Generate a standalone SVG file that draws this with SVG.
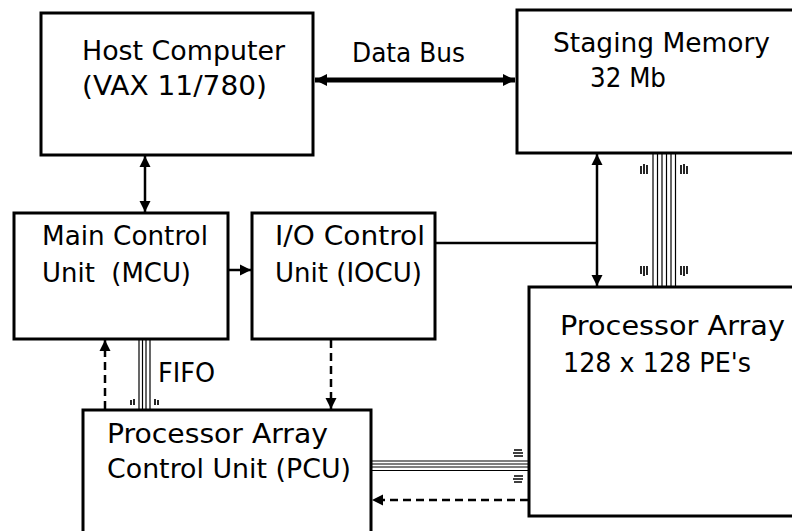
<svg xmlns="http://www.w3.org/2000/svg" width="792" height="531" viewBox="0 0 792 531">
  <style>
    .box { fill: #ffffff; stroke: #000000; stroke-width: 3; }
    .lbl { font-family: "DejaVu Sans", "Liberation Sans", sans-serif; font-size: 26px; fill: #000000; }
    .line { fill: none; stroke: #000000; stroke-width: 2.5; }
    .dash { fill: none; stroke: #000000; stroke-width: 2.5; stroke-dasharray: 8 5; }
    .bus { fill: none; stroke: #000000; stroke-width: 5; }
    .wire { fill: none; stroke: #000000; stroke-width: 1.2; }
    .tick { fill: none; stroke: #000000; stroke-width: 1.7; }
  </style>
  <defs>
    <marker id="ah" viewBox="0 0 10 10" refX="10" refY="5" markerWidth="11" markerHeight="12" markerUnits="userSpaceOnUse" orient="auto-start-reverse">
      <path d="M0,0 L10,5 L0,10 Z" fill="#000000"/>
    </marker>
    <marker id="ahb" viewBox="0 0 10 10" refX="10" refY="5" markerWidth="12" markerHeight="14" markerUnits="userSpaceOnUse" orient="auto-start-reverse">
      <path d="M0,0 L10,5 L0,10 Z" fill="#000000"/>
    </marker>
  </defs>

  <rect width="792" height="531" fill="#ffffff"/>

  <g id="host">
    <rect class="box" x="41" y="13" width="272" height="142"/>
    <text class="lbl" x="82" y="60" textLength="203" lengthAdjust="spacingAndGlyphs">Host Computer</text>
    <text class="lbl" x="82" y="95" textLength="185" lengthAdjust="spacingAndGlyphs">(VAX 11/780)</text>
  </g>

  <g id="staging">
    <rect class="box" x="517" y="10" width="290" height="143"/>
    <text class="lbl" x="553" y="52" textLength="217" lengthAdjust="spacingAndGlyphs">Staging Memory</text>
    <text class="lbl" x="590" y="87" textLength="76" lengthAdjust="spacingAndGlyphs">32 Mb</text>
  </g>

  <g id="mcu">
    <rect class="box" x="14" y="213" width="214" height="126"/>
    <text class="lbl" x="42" y="245" textLength="166" lengthAdjust="spacingAndGlyphs">Main Control</text>
    <text class="lbl" x="42" y="282" textLength="149" lengthAdjust="spacingAndGlyphs" xml:space="preserve">Unit  (MCU)</text>
  </g>

  <g id="iocu">
    <rect class="box" x="252" y="213" width="183" height="126"/>
    <text class="lbl" x="275" y="245" textLength="150" lengthAdjust="spacingAndGlyphs">I/O Control</text>
    <text class="lbl" x="275" y="282" textLength="147" lengthAdjust="spacingAndGlyphs">Unit (IOCU)</text>
  </g>

  <g id="pa">
    <rect class="box" x="529" y="287" width="280" height="229"/>
    <text class="lbl" x="560" y="335" textLength="225" lengthAdjust="spacingAndGlyphs">Processor Array</text>
    <text class="lbl" x="563" y="372" textLength="188" lengthAdjust="spacingAndGlyphs">128 x 128 PE's</text>
  </g>

  <g id="pcu">
    <rect class="box" x="83" y="410" width="288" height="140"/>
    <text class="lbl" x="107" y="443" textLength="221" lengthAdjust="spacingAndGlyphs">Processor Array</text>
    <text class="lbl" x="107" y="478" textLength="244" lengthAdjust="spacingAndGlyphs">Control Unit (PCU)</text>
  </g>

  <g id="connectors">
    <!-- Data Bus -->
    <line class="bus" x1="315" y1="80" x2="515" y2="80" marker-start="url(#ahb)" marker-end="url(#ahb)"/>
    <text class="lbl" x="352" y="62" textLength="113" lengthAdjust="spacingAndGlyphs">Data Bus</text>

    <!-- Host <-> MCU -->
    <line class="line" x1="145" y1="156" x2="145" y2="212" marker-start="url(#ah)" marker-end="url(#ah)"/>

    <!-- MCU -> IOCU -->
    <line class="line" x1="229" y1="270" x2="251" y2="270" marker-end="url(#ah)"/>

    <!-- Staging <-> PA, with IOCU branch -->
    <line class="line" x1="597" y1="154" x2="597" y2="286" marker-start="url(#ah)" marker-end="url(#ah)"/>
    <line class="line" x1="436" y1="243" x2="597" y2="243"/>

    <!-- Staging - PA bundle -->
    <g>
      <line class="wire" x1="653" y1="154" x2="653" y2="286"/>
      <line class="wire" x1="657.5" y1="154" x2="657.5" y2="286"/>
      <line class="wire" x1="662" y1="154" x2="662" y2="286"/>
      <line class="wire" x1="666.5" y1="154" x2="666.5" y2="286"/>
      <line class="wire" x1="671" y1="154" x2="671" y2="286"/>
      <line class="wire" x1="675.5" y1="154" x2="675.5" y2="286"/>
      <path class="tick" d="M641,166 v8 M644,164 v10 M647,165 v9 M681,165 v9 M684,164 v10 M687,166 v8"/>
      <path class="tick" d="M641,266 v8 M644,266 v10 M647,266 v9 M681,266 v9 M684,266 v10 M687,266 v8"/>
    </g>

    <!-- FIFO bundle -->
    <g>
      <line class="wire" x1="139" y1="340" x2="139" y2="409"/>
      <line class="wire" x1="142.5" y1="340" x2="142.5" y2="409"/>
      <line class="wire" x1="146" y1="340" x2="146" y2="409"/>
      <line class="wire" x1="150" y1="340" x2="150" y2="409"/>
      <path class="tick" d="M131,400 v5 M134,399 v6 M155,399 v6 M158,400 v5"/>
      <text class="lbl" x="158" y="382" textLength="57" lengthAdjust="spacingAndGlyphs">FIFO</text>
    </g>

    <!-- PCU - PA bundle -->
    <g>
      <line class="wire" x1="372" y1="461" x2="528" y2="461"/>
      <line class="wire" x1="372" y1="464" x2="528" y2="464"/>
      <line class="wire" x1="372" y1="467" x2="528" y2="467"/>
      <line class="wire" x1="372" y1="470.5" x2="528" y2="470.5"/>
      <path class="tick" d="M514,450 h8 M513,453 h10 M514,456 h9 M514,476 h9 M513,479 h10 M514,482 h8"/>
    </g>

    <!-- Dashed: PCU -> MCU -->
    <line class="dash" x1="105" y1="409" x2="105" y2="340" marker-end="url(#ah)"/>
    <!-- Dashed: IOCU -> PCU -->
    <line class="dash" x1="331" y1="340" x2="331" y2="409" marker-end="url(#ah)"/>
    <!-- Dashed: PA -> PCU -->
    <line class="dash" x1="528" y1="500" x2="372" y2="500" marker-end="url(#ah)"/>
  </g>
</svg>
